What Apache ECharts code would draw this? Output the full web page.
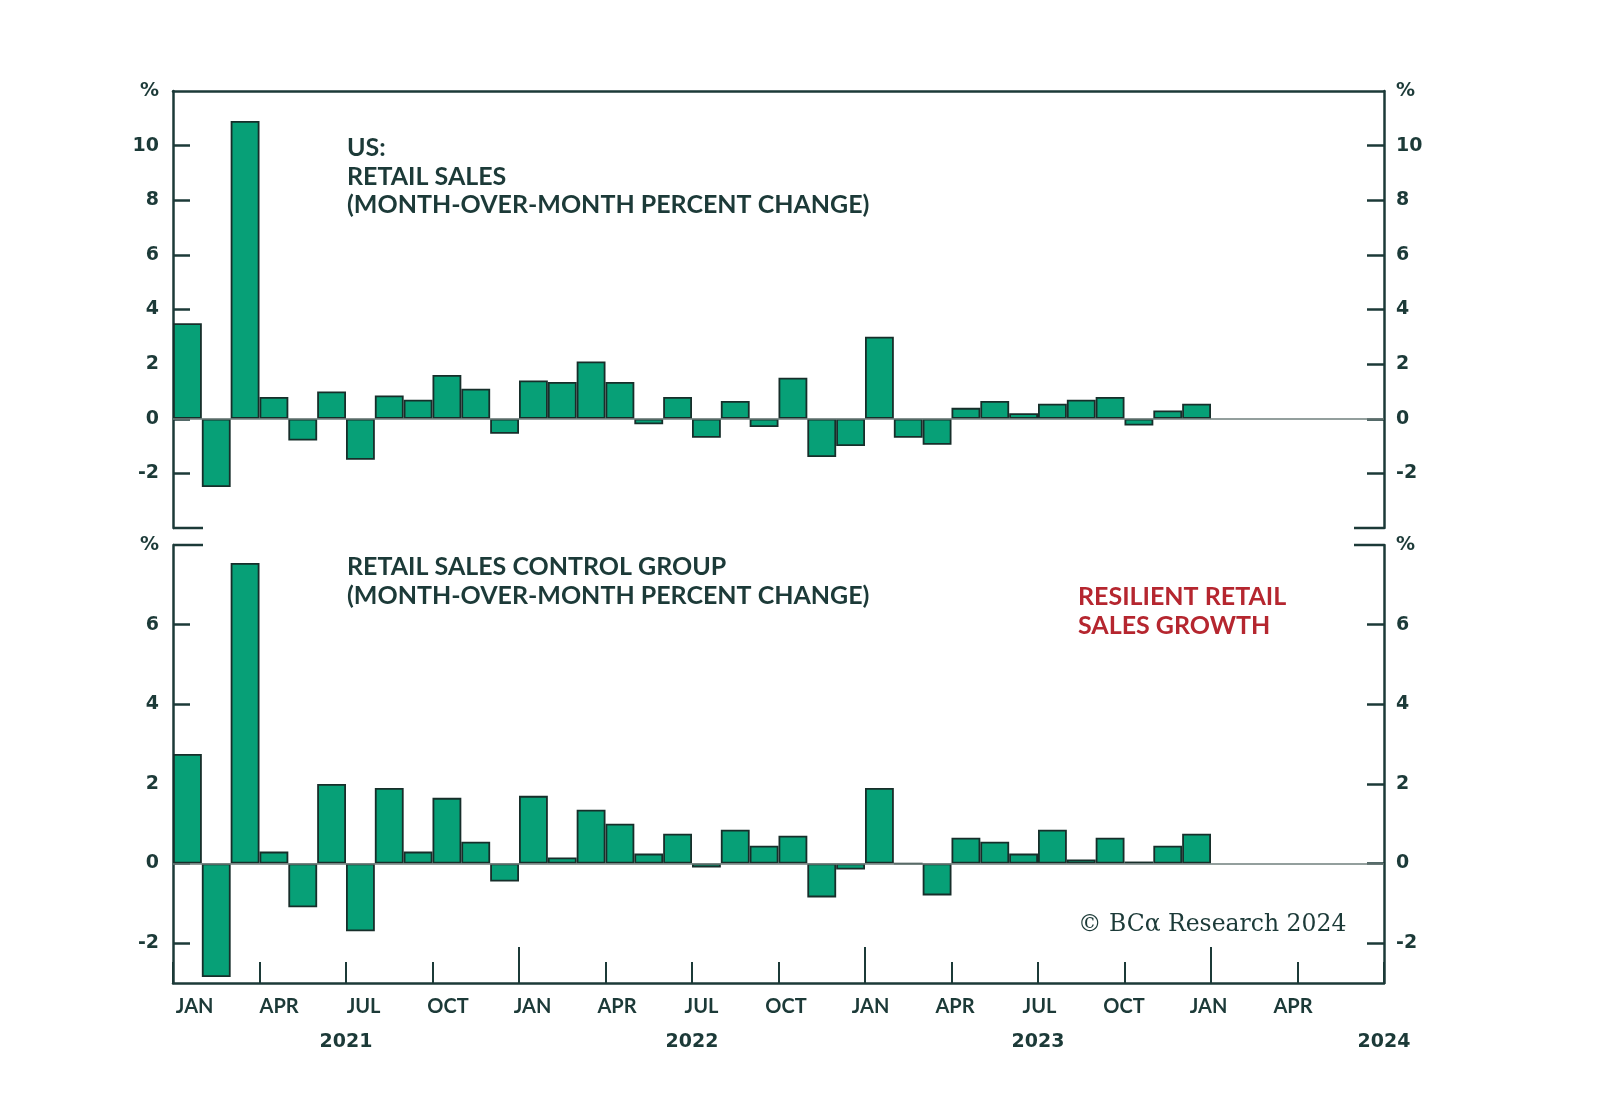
<!DOCTYPE html>
<html><head><meta charset="utf-8">
<script src="https://cdn.jsdelivr.net/npm/echarts@6/dist/echarts.min.js"></script>
<style>html,body{margin:0;padding:0;background:#fff}#c{width:1600px;height:1120px}</style>
</head><body><div id="c"></div>
<script>
// ---- data ----
const months = [
  '2021-01','2021-02','2021-03','2021-04','2021-05','2021-06','2021-07','2021-08','2021-09','2021-10','2021-11','2021-12',
  '2022-01','2022-02','2022-03','2022-04','2022-05','2022-06','2022-07','2022-08','2022-09','2022-10','2022-11','2022-12',
  '2023-01','2023-02','2023-03','2023-04','2023-05','2023-06','2023-07','2023-08','2023-09','2023-10','2023-11','2023-12',
  '2024-01','2024-02','2024-03','2024-04','2024-05','2024-06'
];
const retailSales = [
  3.5, -2.5, 10.9, 0.8, -0.8, 1.0, -1.5, 0.85, 0.7, 1.6, 1.1, -0.55,
  1.4, 1.35, 2.1, 1.35, -0.2, 0.8, -0.7, 0.65, -0.3, 1.5, -1.4, -1.0,
  3.0, -0.7, -0.95, 0.4, 0.65, 0.2, 0.55, 0.7, 0.8, -0.25, 0.3, 0.55
];
const controlGroup = [
  2.75, -2.85, 7.55, 0.3, -1.1, 2.0, -1.7, 1.9, 0.3, 1.65, 0.55, -0.45,
  1.7, 0.15, 1.35, 1.0, 0.25, 0.75, -0.1, 0.85, 0.45, 0.7, -0.85, -0.15,
  1.9, 0.0, -0.8, 0.65, 0.55, 0.25, 0.85, 0.1, 0.65, 0.05, 0.45, 0.75
];
const monthTickLabels = ['JAN','APR','JUL','OCT','JAN','APR','JUL','OCT','JAN','APR','JUL','OCT','JAN','APR'];
const yearLabels = ['2021','2022','2023','2024'];
const topTicks = [-2, 0, 2, 4, 6, 8, 10];
const bottomTicks = [-2, 0, 2, 4, 6];

// ---- style ----
const INK = '#1c3a38';
const BAR = '#07a077';
const BAR_EDGE = '#172e2a';
const FONT = 'Lato, "Noto Sans", sans-serif';
const NUMFONT = '"DejaVu Sans", Lato, sans-serif';
const L = 173, R = 216, W = 1600 - L - R;
const T1 = 91, H1 = 437, T2 = 545, H2 = 438;

const chart = echarts.init(document.getElementById('c'), null, {renderer: 'canvas'});

function yAx(grid, pos, min, max, ticks, topVal) {
  return {
    type: 'value', gridIndex: grid, position: pos, min: min, max: max,
    splitLine: {show: false},
    axisLine: {show: true, onZero: false, lineStyle: {color: INK, width: 2.5}},
    axisTick: {show: true, inside: true, length: 17, customValues: ticks, lineStyle: {color: INK, width: 2.5}},
    axisLabel: {
      show: true, customValues: ticks.concat([topVal]),
      margin: pos === 'left' ? 14 : 12,
      color: INK, fontFamily: NUMFONT, fontWeight: 'bold', fontSize: 19,
      formatter: v => (v === topVal ? '%' : String(v))
    }
  };
}

const monthVals = monthTickLabels.map((_, i) => i * 3);
const yearVals = yearLabels.map((_, i) => 6 + i * 12);
const xHidden = {
  splitLine: {show: false},
  axisLine: {show: false, onZero: false},
  axisTick: {show: false},
  axisLabel: {show: false}
};

const option = {
  backgroundColor: '#ffffff',
  animation: false,
  grid: [
    {left: L, right: R, top: T1, height: H1},
    {left: L, right: R, top: T2, height: H2}
  ],
  xAxis: [
    {type: 'category', gridIndex: 0, data: months, position: 'top', boundaryGap: true,
     axisLine: {show: true, onZero: false, lineStyle: {color: INK, width: 2.5}},
     axisTick: {show: false}, axisLabel: {show: false}},
    {type: 'category', gridIndex: 1, data: months, position: 'bottom', boundaryGap: true,
     axisLine: {show: true, onZero: false, lineStyle: {color: INK, width: 2.5}},
     axisTick: {show: true, inside: true, length: 21, interval: 2, lineStyle: {color: INK, width: 2}},
     axisLabel: {show: false}},
    Object.assign({}, xHidden, {type: 'value', gridIndex: 1, min: 0, max: months.length, position: 'bottom',
     axisTick: {show: true, inside: true, length: 36, customValues: [12, 24, 36], lineStyle: {color: INK, width: 2}}}),
    Object.assign({}, xHidden, {type: 'value', gridIndex: 1, min: -0.767, max: 42.233, position: 'bottom',
     axisLabel: {show: true, customValues: monthVals, margin: 14, color: INK, fontFamily: FONT,
       fontWeight: 'bold', fontSize: 20, formatter: v => monthTickLabels[Math.round(v / 3)]}}),
    Object.assign({}, xHidden, {type: 'value', gridIndex: 1, min: 0, max: months.length, position: 'bottom',
     axisLabel: {show: true, customValues: yearVals, margin: 50, color: INK, fontFamily: NUMFONT,
       fontWeight: 'bold', fontSize: 19, formatter: v => yearLabels[Math.round((v - 6) / 12)]}})
  ],
  yAxis: [
    yAx(0, 'left', -4, 12, topTicks, 12),
    yAx(0, 'right', -4, 12, topTicks, 12),
    yAx(1, 'left', -3, 8, bottomTicks, 8),
    yAx(1, 'right', -3, 8, bottomTicks, 8)
  ],
  series: [
    {type: 'bar', name: 'Retail sales', xAxisIndex: 0, yAxisIndex: 0, data: retailSales,
     barWidth: '100%', barGap: '0%',
     itemStyle: {color: BAR, borderColor: BAR_EDGE, borderWidth: 1.8},
     markLine: {silent: true, symbol: 'none', label: {show: false},
       lineStyle: {color: '#6f7f7d', width: 1.5, type: 'solid'}, data: [{yAxis: 0}]}},
    {type: 'bar', name: 'Control group', xAxisIndex: 1, yAxisIndex: 2, data: controlGroup,
     barWidth: '100%', barGap: '0%',
     itemStyle: {color: BAR, borderColor: BAR_EDGE, borderWidth: 1.8},
     markLine: {silent: true, symbol: 'none', label: {show: false},
       lineStyle: {color: '#6f7f7d', width: 1.5, type: 'solid'}, data: [{yAxis: 0}]}}
  ],
  graphic: [
    // frame stubs between panels
    {type: 'line', shape: {x1: L, y1: T1 + H1, x2: L + 30, y2: T1 + H1}, style: {stroke: INK, lineWidth: 2.5}},
    {type: 'line', shape: {x1: L + W - 30, y1: T1 + H1, x2: L + W, y2: T1 + H1}, style: {stroke: INK, lineWidth: 2.5}},
    {type: 'line', shape: {x1: L, y1: T2, x2: L + 30, y2: T2}, style: {stroke: INK, lineWidth: 2.5}},
    {type: 'line', shape: {x1: L + W - 30, y1: T2, x2: L + W, y2: T2}, style: {stroke: INK, lineWidth: 2.5}},
    {type: 'text', left: 347, top: 134,
     style: {text: 'US:\nRETAIL SALES\n(MONTH-OVER-MONTH PERCENT CHANGE)', fill: INK,
       font: 'bold 25px ' + FONT, lineHeight: 28.4}},
    {type: 'text', left: 347, top: 553,
     style: {text: 'RETAIL SALES CONTROL GROUP\n(MONTH-OVER-MONTH PERCENT CHANGE)', fill: INK,
       font: 'bold 25px ' + FONT, lineHeight: 28.4}},
    {type: 'text', left: 1078, top: 583,
     style: {text: 'RESILIENT RETAIL\nSALES GROWTH', fill: '#b5262f',
       font: 'bold 25px ' + FONT, lineHeight: 28.5}},
    {type: 'text', left: 1078, top: 913,
     style: {text: '\u00A9 BC\u03B1 Research 2024', fill: INK,
       font: '23.5px "DejaVu Serif", "Liberation Serif", serif'}}
  ]
};
chart.setOption(option);
</script>
</body></html>
